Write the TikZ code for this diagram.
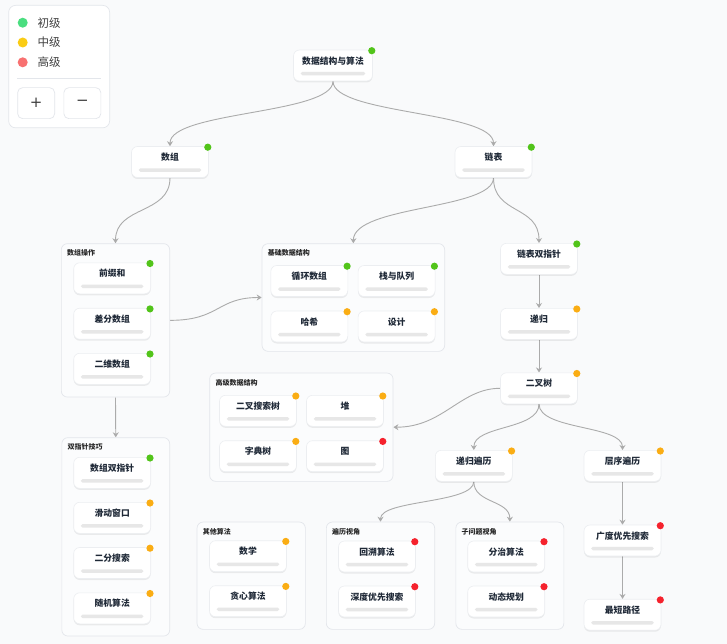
\documentclass[tikz,border=0pt]{standalone}
\usepackage{fontspec}
\setmainfont{Noto Sans CJK SC}
\newfontfamily\symf{DejaVu Sans}
\usetikzlibrary{arrows.meta,shadows}
\definecolor{bgc}{HTML}{F9FAFB}
\definecolor{cardborder}{HTML}{ECEEF1}
\definecolor{grpborder}{HTML}{E3E6EB}
\definecolor{grpfill}{HTML}{FBFCFD}
\definecolor{barcol}{HTML}{E7E7E7}
\definecolor{txt}{HTML}{1F2937}
\definecolor{edgecol}{HTML}{ABABAB}
\definecolor{dg}{HTML}{52C41A}
\definecolor{dy}{HTML}{FAAD14}
\definecolor{dr}{HTML}{F5222D}
\definecolor{lg}{HTML}{4ADE80}
\definecolor{ly}{HTML}{FACC15}
\definecolor{lr}{HTML}{F87171}
\pgfdeclarelayer{back}
\pgfdeclarelayer{edges}
\pgfsetlayers{back,edges,main}
\tikzset{
  card/.style={rectangle, rounded corners=6pt, fill=white, draw=cardborder, line width=0.6pt,
    minimum width=77pt, minimum height=31pt, inner sep=0pt,
    drop shadow={shadow xshift=0pt, shadow yshift=-1.5pt, opacity=0.07, fill=black}},
  cardlabel/.style={inner sep=0pt, text=txt, font=\bfseries\fontsize{8.8}{10}\selectfont},
  grp/.style={rectangle, rounded corners=6pt, fill=grpfill, draw=grpborder, line width=0.7pt,
    inner sep=0pt, anchor=north west},
  grptitle/.style={inner sep=0pt, anchor=west, text=black!85, font=\bfseries\fontsize{7}{8}\selectfont},
  edge/.style={draw=edgecol, line width=0.9pt, -{Stealth[length=5pt,width=6pt]}},
  plain/.style={draw=edgecol, line width=0.9pt},
  legtext/.style={inner sep=0pt, anchor=west, text=black!75, font=\fontsize{11.5}{13}\selectfont},
  btn/.style={rectangle, rounded corners=5pt, fill=white, draw=grpborder, line width=0.7pt,
    minimum width=37pt, minimum height=31pt, inner sep=0pt, anchor=north west, text=black!75,
    font=\symf\fontsize{15}{16}\selectfont}
}
\newcommand\card[5]{%
  \node[card] (#1) at (#2,#3) {};
  \node[cardlabel] (#1-l) at ([yshift=-11pt]#1.north) {#4};
  \fill[barcol, rounded corners=1.7pt] ([xshift=7.5pt,yshift=6pt]#1.south west) rectangle ([xshift=-7.5pt,yshift=9.5pt]#1.south east);
  \fill[#5] ([xshift=-1pt,yshift=-1pt]#1.north east) circle (3.6pt);
}
\newcommand\grpbox[7]{%
  \node[grp, minimum width=#4pt, minimum height=#5pt] (#1) at (#2,#3) {};
  \node[grptitle] (#1-t) at ([xshift=6pt,yshift=-10pt]#1.north west) {#6};
}
\begin{document}
\begin{tikzpicture}[x=1pt,y=-1pt]
\begin{pgfonlayer}{back}
\fill[bgc] (0,0) rectangle (727,644);
\end{pgfonlayer}
\useasboundingbox (0,0) rectangle (727,644);

% legend
\node[rectangle, rounded corners=7pt, fill=white, draw=grpborder, line width=0.7pt, inner sep=0pt,
  minimum width=101pt, minimum height=122.5pt, anchor=north west] (leg) at (8.3,5) {};
\fill[lg] (22.7,22.7) circle (5pt);
\node[legtext] (leg1) at (37.3,22.7) {初级};
\fill[ly] (22.7,42.5) circle (5pt);
\node[legtext] (leg2) at (37.3,42.5) {中级};
\fill[lr] (22.7,62.3) circle (5pt);
\node[legtext] (leg3) at (37.3,62.3) {高级};
\draw[grpborder, line width=0.7pt] (17.3,78.3) -- (100.7,78.3);
\node[btn] (plus) at (17.3,87.3) {+};
\node[btn] (minus) at (63.5,87.3) {−};

% groups
\grpbox{g1}{61}{243.3}{108.3}{153.4}{数组操作}{}
\grpbox{g2}{261.7}{243.3}{182.6}{107.7}{基础数据结构}{}
\grpbox{g3}{209.3}{372.7}{183.4}{108.3}{高级数据结构}{}
\grpbox{g4}{61.5}{437.3}{107.8}{198.4}{双指针技巧}{}
\grpbox{g5}{196.7}{521.7}{108.3}{107.3}{其他算法}{}
\grpbox{g6}{326}{521.7}{108.3}{107.3}{遍历视角}{}
\grpbox{g7}{455.5}{521.7}{108}{107.3}{子问题视角}{}

% cards
\node[card, minimum width=79pt] (root) at (333,65.5) {};
\node[cardlabel] (root-l) at ([yshift=-11pt]root.north) {数据结构与算法};
\fill[barcol, rounded corners=1.7pt] ([xshift=7.5pt,yshift=6pt]root.south west) rectangle ([xshift=-7.5pt,yshift=9.5pt]root.south east);
\fill[dg] ([xshift=-1pt,yshift=-1pt]root.north east) circle (3.6pt);

\card{arr}{170}{162}{数组}{dg}
\card{lst}{493.5}{162}{链表}{dg}
\card{pre}{112.2}{278.3}{前缀和}{dg}
\card{dif}{112.2}{323.7}{差分数组}{dg}
\card{twod}{112.2}{368.8}{二维数组}{dg}
\card{cyc}{309.3}{281}{循环数组}{dg}
\card{stk}{396.6}{281}{栈与队列}{dg}
\card{hsh}{309.3}{326.5}{哈希}{dy}
\card{dsg}{396.6}{326.5}{设计}{dy}
\card{lsp}{539}{258.8}{链表双指针}{dg}
\card{rec}{539}{323.8}{递归}{dy}
\card{bt}{539}{388.3}{二叉树}{dy}
\card{bst}{258}{410.8}{二叉搜索树}{dy}
\card{heap}{345}{410.8}{堆}{dy}
\card{trie}{258}{456.2}{字典树}{dy}
\card{graph}{345}{456.2}{图}{dr}
\card{rt}{473.8}{465.8}{递归遍历}{dy}
\card{lt}{622.5}{465.8}{层序遍历}{dy}
\card{math}{248}{556.2}{数学}{dy}
\card{greedy}{248}{601.2}{贪心算法}{dy}
\card{back}{377}{556.5}{回溯算法}{dr}
\card{dfs}{377}{601.5}{深度优先搜索}{dr}
\card{dc}{506.2}{556.5}{分治算法}{dr}
\card{dp}{506.2}{601.5}{动态规划}{dr}
\card{bfs}{622.5}{540.5}{广度优先搜索}{dr}
\card{sp}{622.5}{614.7}{最短路径}{dr}
\card{ap}{112.2}{472.8}{数组双指针}{dg}
\card{sw}{112.2}{517.8}{滑动窗口}{dy}
\card{bs}{112.2}{563}{二分搜索}{dy}
\card{ra}{112.2}{608.3}{随机算法}{dy}

% edges
\begin{pgfonlayer}{edges}
\draw[edge] (root.south) .. controls +(0,33) and +(0,-35) .. (arr.north);
\draw[edge] (root.south) .. controls +(0,33) and +(0,-35) .. (lst.north);
\draw[edge] (arr.south) .. controls +(0,37) and +(0,-38) .. (g1.north);
\draw[edge] (lst.south) .. controls +(0,32) and +(0,-38) .. (g2.north);
\draw[edge] (lst.south) .. controls +(0,37) and +(0,-38) .. (lsp.north);
\draw[edge] (g1.east) .. controls +(50,0) and +(-45,0) .. (g2.west);
\draw[edge] (g1.south) -- (g4.north);
\draw[edge] (lsp.south) -- (rec.north);
\draw[edge] (rec.south) -- (bt.north);
\draw[edge] (bt.west) .. controls +(-40,0) and +(50,0) .. (g3.east);
\draw[edge] (bt.south) .. controls +(0,26) and +(0,-25) .. (rt.north);
\draw[edge] (bt.south) .. controls +(0,26) and +(0,-25) .. (lt.north);
\draw[edge] (rt.south) .. controls +(0,22) and +(0,-22) .. (g6.north);
\draw[edge] (rt.south) .. controls +(0,22) and +(0,-22) .. (g7.north);
\draw[edge] (lt.south) -- (bfs.north);
\draw[edge] (bfs.south) -- (sp.north);
\end{pgfonlayer}
\end{tikzpicture}
\end{document}
